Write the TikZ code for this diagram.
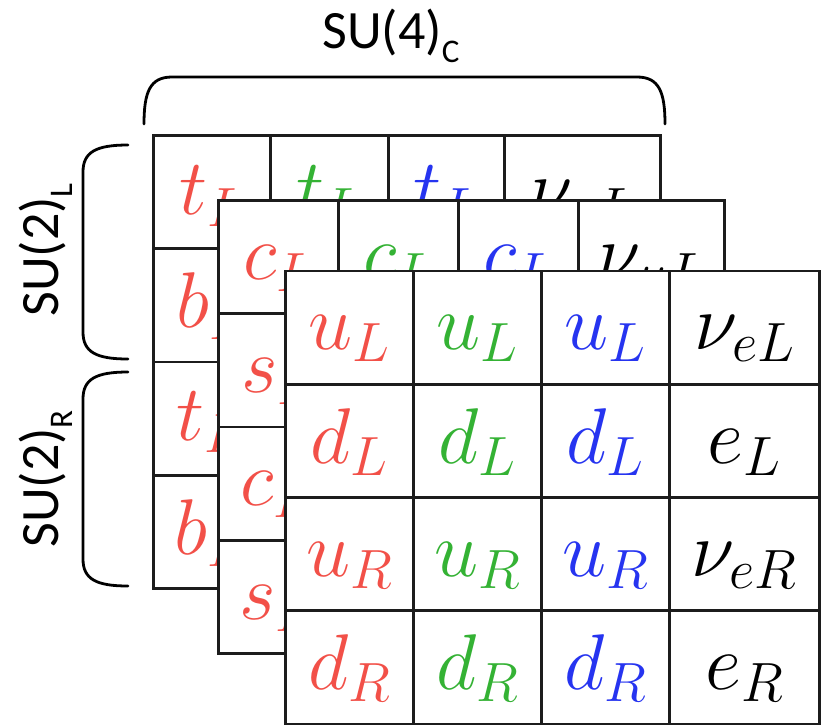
\RequirePackage{fix-cm}
\documentclass[tikz,border=0pt]{standalone}
\usepackage{fontspec}
\newfontfamily\labelfont{Carlito}

\definecolor{qred}{RGB}{242,80,72}
\definecolor{qgreen}{RGB}{52,178,52}
\definecolor{qblue}{RGB}{38,52,240}
\definecolor{gridline}{RGB}{28,28,28}

% subscript of the group labels
\newcommand\labsub[1]{\raisebox{-14pt}{\fontsize{33}{33}\selectfont #1}}

\tikzset{
  cell/.style={draw=gridline, line width=2.8pt, fill=white, inner sep=0pt,
    anchor=north west, minimum height=113.3pt,
    text height=79pt, text depth=34.3pt,
    font=\fontsize{79}{82}\selectfont},
  grouplabel/.style={inner sep=0pt, font=\labelfont\fontsize{54}{60}\selectfont},
  bracket/.style={draw=black, line width=2.8pt, line cap=round},
}

\begin{document}
\begin{tikzpicture}[x=1pt, y=-1pt]
\useasboundingbox (0,0) rectangle (821,724);

% third generation (back)
\foreach \r/\q/\h/\lep in {1/t/L/\nu_{\tau L}, 2/b/L/\tau_L, 3/t/R/\nu_{\tau R}, 4/b/R/\tau_R}{
  \pgfmathsetmacro\yy{134+(\r-1)*113.25}
  \node[cell, minimum width=117pt, text=qred]   (back-\r-1) at (152,\yy) {$\q_\h$};
  \node[cell, minimum width=118pt, text=qgreen] (back-\r-2) at (269,\yy) {$\q_\h$};
  \node[cell, minimum width=116pt, text=qblue]  (back-\r-3) at (387,\yy) {$\q_\h$};
  \node[cell, minimum width=156pt, text=black]  (back-\r-4) at (503,\yy) {$\lep$};
}

% second generation (middle)
\foreach \r/\q/\h/\lep in {1/c/L/\nu_{\mu L}, 2/s/L/\mu_L, 3/c/R/\nu_{\mu R}, 4/s/R/\mu_R}{
  \pgfmathsetmacro\yy{199+(\r-1)*113.25}
  \node[cell, minimum width=120pt, text=qred]   (mid-\r-1) at (217,\yy) {$\q_\h$};
  \node[cell, minimum width=120pt, text=qgreen] (mid-\r-2) at (337,\yy) {$\q_\h$};
  \node[cell, minimum width=120pt, text=qblue]  (mid-\r-3) at (457,\yy) {$\q_\h$};
  \node[cell, minimum width=146pt, text=black]  (mid-\r-4) at (577,\yy) {$\lep$};
}

% first generation (front)
\foreach \r/\q/\h/\lep in {1/u/L/\nu_{eL}, 2/d/L/e_L, 3/u/R/\nu_{eR}, 4/d/R/e_R}{
  \pgfmathsetmacro\yy{269.5+(\r-1)*113.3}
  \node[cell, minimum width=128pt, text=qred]   (front-\r-1) at (284,\yy) {$\q_\h$};
  \node[cell, minimum width=128pt, text=qgreen] (front-\r-2) at (412,\yy) {$\q_\h$};
  \node[cell, minimum width=128pt, text=qblue]  (front-\r-3) at (540,\yy) {$\q_\h$};
  \node[cell, minimum width=150pt, text=black]  (front-\r-4) at (668,\yy) {$\lep$};
}

% colour group bracket
\draw[bracket] (144,124) .. controls (144,92) and (150,77) .. (172,77)
  -- (637,77) .. controls (659,77) and (665,92) .. (665,124);
\node[grouplabel, anchor=base] (su4) at (391,48) {SU(4)\labsub{C}};

% left-handed doublet bracket
\draw[bracket] (128,145) .. controls (96,145) and (83,152) .. (83,172)
  -- (83,332) .. controls (83,352) and (96,359) .. (128,359);
\node[grouplabel, rotate=90, anchor=base] (su2l) at (58,250) {SU(2)\labsub{L}};

% right-handed doublet bracket
\draw[bracket] (128,372) .. controls (96,372) and (83,379) .. (83,399)
  -- (83,559) .. controls (83,579) and (96,586) .. (128,586);
\node[grouplabel, rotate=90, anchor=base] (su2r) at (58,479) {SU(2)\labsub{R}};
\end{tikzpicture}
\end{document}
